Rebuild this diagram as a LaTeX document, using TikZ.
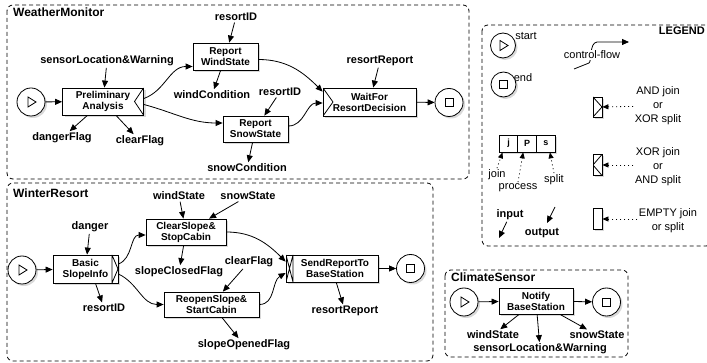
\documentclass[tikz,border=0pt]{standalone}
\usepackage{fontspec}
\setmainfont{Liberation Sans}
\usetikzlibrary{arrows.meta,shadows}

\tikzset{
    proc/.style={draw, fill=white, line width=0.8pt, inner sep=0pt, align=center,
        font=\bfseries\fontsize{10}{11}\selectfont, minimum height=27pt,
        drop shadow={opacity=0.3, shadow xshift=2pt, shadow yshift=-2pt}},
    cell/.style={proc, minimum width=18.7pt, minimum height=17pt, font=\bfseries\fontsize{9}{10}\selectfont},
    markbox/.style={draw, fill=white, line width=0.8pt, inner sep=0pt, minimum width=9pt, minimum height=21pt,
        drop shadow={opacity=0.3, shadow xshift=2pt, shadow yshift=-2pt}},
    evt/.style={draw, fill=white, circle, line width=0.8pt, minimum size=28pt, inner sep=0pt,
        drop shadow={opacity=0.3, shadow xshift=2pt, shadow yshift=-2pt}},
    startevt/.style={evt, path picture={\draw[line width=0.8pt] ([shift={(-3pt,5pt)}]path picture bounding box.center)
        -- ++(8pt,-5pt) -- ++(-8pt,-5pt) -- cycle;}},
    endevt/.style={evt, path picture={\draw[line width=0.8pt] ([shift={(-4pt,-4pt)}]path picture bounding box.center)
        rectangle ++(8pt,8pt);}},
    andjoin/.style={path picture={\draw[line width=0.8pt] (path picture bounding box.north west)
        -- ([xshift=#1]path picture bounding box.west) -- (path picture bounding box.south west);}},
    andjoin/.default=10pt,
    xorsplit/.style={path picture={\draw[line width=0.8pt] (path picture bounding box.north east)
        -- ([xshift=-#1]path picture bounding box.east) -- (path picture bounding box.south east);}},
    xorsplit/.default=9pt,
    barsplit/.style={path picture={\draw[line width=0.8pt] ([xshift=-6pt]path picture bounding box.north east)
        -- ([xshift=-6pt]path picture bounding box.south east)
        -- (path picture bounding box.east) -- ([xshift=-6pt]path picture bounding box.north east);}},
    barjoin/.style={path picture={\draw[line width=0.8pt] ([xshift=7pt]path picture bounding box.north west)
        -- ([xshift=7pt]path picture bounding box.south west)
        (path picture bounding box.north west) -- ([xshift=7pt]path picture bounding box.south west)
        (path picture bounding box.south west) -- ([xshift=7pt]path picture bounding box.north west);}},
    lbl/.style={font=\bfseries\fontsize{11}{13}\selectfont, inner sep=1.5pt},
    legtxt/.style={font=\fontsize{11}{14}\selectfont, align=center, inner sep=1.5pt},
    grp/.style={draw, dash pattern=on 4pt off 3pt, line width=0.8pt, rounded corners=6pt},
    grptitle/.style={font=\bfseries\fontsize{12}{14}\selectfont, anchor=base west, inner sep=0pt},
    flow/.style={line width=0.8pt, -{Triangle[length=7pt,width=6pt]}},
    hint/.style={line width=0.8pt, dash pattern=on 1pt off 3pt, -{Triangle[length=6pt,width=5pt]}},
}

\begin{document}
\begin{tikzpicture}[x=1pt, y=-1pt]
        \useasboundingbox (0,0) rectangle (707,363);

        \draw[grp] (7,5) rectangle (469,179);
        \node[grptitle] (wmtitle) at (13,17) {WeatherMonitor};
        \node[startevt] (wmstart) at (31,102) {};
        \node[proc, minimum width=81pt, xorsplit] (prelim) at (103,101.5) {Preliminary\\Analysis};
        \node[proc, minimum width=65pt] (wind) at (225.5,56.5) {Report\\WindState};
        \node[proc, minimum width=65pt, minimum height=26pt] (snow) at (255.5,129) {Report\\SnowState};
        \node[proc, minimum width=93pt, minimum height=28pt, andjoin] (wait) at (369.5,102) {WaitFor\\ResortDecision};
        \node[endevt] (wmend) at (449,102.5) {};
        \node[lbl] (sensloc) at (107,61) {sensorLocation\&Warning};
        \node[lbl] (dflag) at (62,138) {dangerFlag};
        \node[lbl] (cflag) at (140,141) {clearFlag};
        \node[lbl] (rid1) at (236,17) {resortID};
        \node[lbl] (wcond) at (212,95) {windCondition};
        \node[lbl] (rid2) at (280,92) {resortID};
        \node[lbl] (scond) at (247,168) {snowCondition};
        \node[lbl] (rrep1) at (380,61) {resortReport};

        \draw[flow] (wmstart) -- (prelim);
        \draw[flow] (sensloc) -- (prelim);
        \draw[flow] (prelim) -- (dflag);
        \draw[flow] (prelim) -- (cflag);
        \draw[flow] ([yshift=3pt]prelim.east) to[out=20,in=180] ([yshift=-10pt]wind.west);
        \draw[flow] ([yshift=-3pt]prelim.east) to[out=-15,in=180] ([yshift=6pt]snow.west);
        \draw[flow] (rid1) -- (wind);
        \draw[flow] (wind) -- (wcond);
        \draw[flow] (rid2) -- (snow);
        \draw[flow] (snow) -- (scond);
        \draw[flow] ([yshift=-3pt]wind.east) to[out=0,in=135] ([yshift=-4pt]wait.north west);
        \draw[flow] ([yshift=3pt]snow.east) to[out=0,in=180] ([yshift=-1pt]wait.west);
        \draw[flow] (rrep1) -- (wait);
        \draw[flow] (wait) -- (wmend);

        \draw[grp] (7,183) rectangle (433,361);
        \node[grptitle] (wrtitle) at (13,198) {WinterResort};
        \node[startevt] (wrstart) at (22,270) {};
        \node[proc, minimum width=65pt, minimum height=28pt, barsplit] (basic) at (85.5,269) {Basic\\SlopeInfo};
        \node[proc, minimum width=80pt, minimum height=26pt] (clear) at (186,232) {ClearSlope\&\\StopCabin};
        \node[proc, minimum width=95pt, minimum height=25pt] (reopen) at (211.5,304.5) {ReopenSlope\&\\StartCabin};
        \node[proc, minimum width=92pt, barjoin] (send) at (332,268.5) {\hspace*{6pt}SendReportTo\\\hspace*{6pt}BaseStation};
        \node[endevt] (wrend) at (410.5,268.5) {};
        \node[lbl] (danger) at (90,227) {danger};
        \node[lbl] (rid3) at (104,308) {resortID};
        \node[lbl] (wstate) at (179,196) {windState};
        \node[lbl] (sstate) at (248,196) {snowState};
        \node[lbl] (scflag) at (179,272) {slopeClosedFlag};
        \node[lbl] (cflag2) at (249,262) {clearFlag};
        \node[lbl] (soflag) at (244,345) {slopeOpenedFlag};
        \node[lbl] (rrep2) at (345,311) {resortReport};

        \draw[flow] (wrstart) -- (basic);
        \draw[flow] (danger) -- (basic);
        \draw[flow] ([xshift=10pt]basic.south) -- (rid3);
        \draw[flow] ([yshift=5pt]basic.east) to[out=20,in=180] ([yshift=-3pt]clear.west);
        \draw[flow] ([yshift=-5pt]basic.east) to[out=-25,in=180] (reopen.west);
        \draw[flow] (wstate) -- (clear);
        \draw[flow] (sstate) -- (clear);
        \draw[flow] (clear) -- (scflag);
        \draw[flow] (cflag2) -- (reopen);
        \draw[flow] (reopen) -- (soflag);
        \draw[flow] (clear.east) to[out=0,in=135] ([yshift=-7pt]send.north west);
        \draw[flow] (reopen.east) to[out=0,in=210] ([yshift=-4.5pt]send.west);
        \draw[flow] (send) -- (rrep2);
        \draw[flow] (send) -- (wrend);

        \draw[grp] (445,270) rectangle (628,357);
        \node[grptitle] (cstitle) at (451,282) {ClimateSensor};
        \node[startevt] (csstart) at (464,302) {};
        \node[proc, minimum width=74pt, minimum height=26pt] (notify) at (536,301) {Notify\\BaseStation};
        \node[endevt] (csend) at (606.5,302) {};
        \node[lbl] (wst2) at (493,335) {windState};
        \node[lbl] (sst2) at (597,335) {snowState};
        \node[lbl] (sloc2) at (540,349) {sensorLocation\&Warning};

        \draw[flow] (csstart) -- (notify);
        \draw[flow] (notify) -- (csend);
        \draw[flow] (notify) -- (wst2);
        \draw[flow] (notify) -- (sst2);
        \draw[flow] (notify) -- (sloc2);

        \draw[grp] (482,25) rectangle (712,246);
        \node[lbl, anchor=base east, inner sep=0pt] (legtitle) at (705,35) {LEGEND};
        \node[legtxt] (starttxt) at (526,36) {start};
        \node[legtxt] (endtxt) at (523,78) {end};
        \node[startevt, minimum size=25pt] (lgstart) at (503,45.5) {};
        \node[endevt, minimum size=25pt] (lgend) at (503.5,84.5) {};

        \coordinate (cfa) at (574,69);
        \coordinate (cfb) at (629,42);
        \draw[flow] (cfa) -- (589,63) .. controls (592,61) and (589,43) .. (597,42) -- (cfb);
        \node[legtxt, fill=white, inner sep=0.5pt] (cftxt) at (592,55) {control-flow};

        \node[markbox, minimum height=20pt, andjoin=9pt] (lgand) at (597.5,107) {};
        \node[legtxt] (lgandtxt) at (658,106) {AND join\\or\\XOR split};
        \draw[hint] (lgandtxt) -- (lgand);
        \node[markbox, xorsplit=9pt] (lgxor) at (597.5,165) {};
        \node[legtxt] (lgxortxt) at (658,166.5) {XOR join\\or\\AND split};
        \draw[hint] (lgxortxt.west |- lgxor) -- (lgxor);
        \node[markbox] (lgempty) at (597.5,219) {};
        \node[legtxt] (lgemptytxt) at (668,221) {EMPTY join\\or split};
        \draw[hint] (lgemptytxt.west |- lgempty) -- (lgempty);

        \foreach \t [count=\i from 0] in {j,P,s} {
            \node[cell] (cell\t) at ({508.5+18.7*\i},143.5) {\t};
        }
        \node[legtxt] (jointxt) at (497,175) {join};
        \node[legtxt] (proctxt) at (518,188) {process};
        \node[legtxt] (splittxt) at (554,180) {split};
        \draw[hint] (jointxt.north) -- ([xshift=-6pt]cellj.south);
        \draw[hint] (proctxt.north) -- ([xshift=-4pt]cellP.south);
        \draw[hint] (splittxt.north) -- ([xshift=4pt]cells.south);

        \node[lbl] (inputtxt) at (510,215) {input};
        \coordinate (inend) at (499,238);
        \draw[flow] (inputtxt) -- (inend);
        \node[lbl] (outputtxt) at (542,233) {output};
        \coordinate (outa) at (555,207);
        \coordinate (outb) at (547,223);
        \draw[flow] (outa) -- (outb);
\end{tikzpicture}
\end{document}
